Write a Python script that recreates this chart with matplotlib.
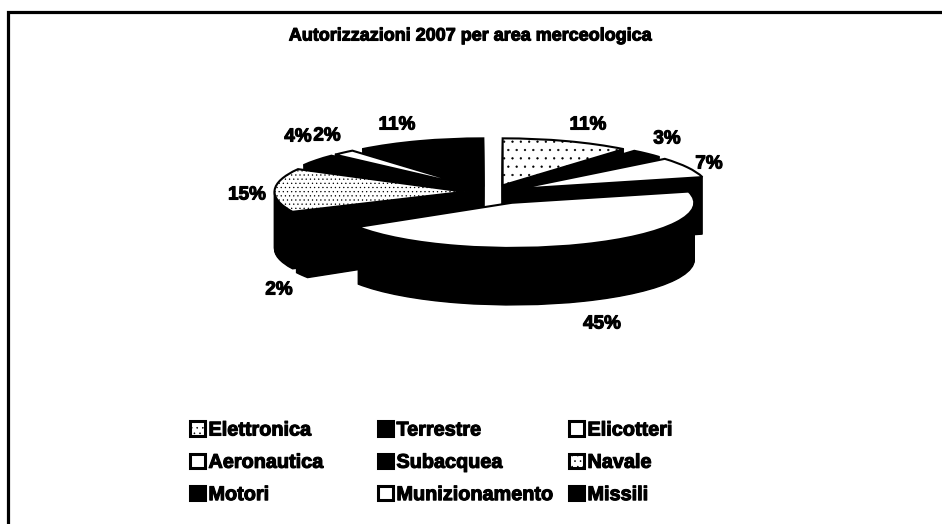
import matplotlib
matplotlib.use("Agg")
import matplotlib.pyplot as plt
import matplotlib.patheffects as pe
from matplotlib.patches import Patch
import numpy as np

W, H = 942, 524
categories = ["Elettronica", "Terrestre", "Elicotteri", "Aeronautica", "Subacquea",
              "Navale", "Motori", "Munizionamento", "Missili"]
values = [11, 3, 7, 45, 2, 15, 4, 2, 11]
explode = [0.15, 0.15, 0.15, 0.25, 0.15, 0.15, 0.15, 0.15, 0.15]
top_colors = ["white", "black", "white", "white", "black", "white", "black", "white", "black"]
hatches = ["..", None, None, None, None, "....", None, None, None]
title = "Autorizzazioni 2007 per area merceologica"

plt.rcParams["font.family"] = ["Liberation Sans", "DejaVu Sans"]
plt.rcParams["hatch.linewidth"] = 0.4
fig = plt.figure(figsize=(W / 100, H / 100), dpi=100, facecolor="white")

bold = [pe.withStroke(linewidth=0.8, foreground="black")]

# outer frame, in pixels: only the left and top edges are visible
px = fig.add_axes([0, 0, 1, 1])
px.set_xlim(0, W)
px.set_ylim(H, 0)
px.axis("off")
px.plot([7.5, 7.5, W], [H, 11.5, 11.5], color="black", lw=2.3, solid_capstyle="butt",
        solid_joinstyle="miter")

px.text(470.5, 36, title, ha="center", va="center", fontsize=12.95, fontweight="bold",
        path_effects=bold)

# pie axes: unit circle maps to an ellipse 190 px wide, 47 px tall (radius)
CX, CY, RX, RY, DEPTH = 493, 192, 190, 47, 57
ax_w, ax_h = 300, 120
ax = fig.add_axes([(CX - ax_w) / W, 1 - (CY + ax_h) / H, 2 * ax_w / W, 2 * ax_h / H])
ax.patch.set_alpha(0)


def layer(offset, colors, hatch_list=None, lw=1.0):
    wedges, _ = ax.pie(values, explode=explode, startangle=90, counterclock=False,
                       colors=colors, center=(0, offset), radius=1,
                       wedgeprops=dict(edgecolor="black", linewidth=lw))
    # the large front slice is drawn slightly smaller in the reference
    wedges[3].set_radius(0.96)
    if hatch_list:
        for w, h in zip(wedges, hatch_list):
            if h:
                w.set_hatch(h)
    return wedges


for d in np.arange(DEPTH, 0, -1):
    layer(-d / RY, ["black"] * len(values))
layer(0, top_colors, hatches, lw=1.5)

ax.set_aspect("auto")
ax.set_xlim(-ax_w / RX, ax_w / RX)
ax.set_ylim(-ax_h / RY, ax_h / RY)
ax.axis("off")

# percentage labels, placed in pixels
label_xy = [(588, 125), (667, 139), (709, 164), (602, 324), (279, 290),
            (247, 195), (298, 137), (327, 136), (397, 125)]
for v, (x, y) in zip(values, label_xy):
    px.text(x, y, f"{v}%", ha="center", va="center", fontsize=13.6, fontweight="bold",
            path_effects=bold)

# legend: three columns, filled row by row
legend_face = ["white", "black", "white", "white", "black", "white", "black", "white", "black"]
legend_hatch = ["...", None, None, None, None, "...", None, None, None]
col_x = [190, 378, 569]
for c in range(3):
    idx = list(range(c, 9, 3))
    handles = [Patch(facecolor=legend_face[i], edgecolor="black", linewidth=2.2,
                     hatch=legend_hatch[i], label=categories[i]) for i in idx]
    leg = fig.legend(handles=handles, loc="upper left", frameon=False, ncol=1,
                     bbox_to_anchor=(col_x[c] / W, 1 - 420.5 / H), borderpad=0, borderaxespad=0,
                     prop=dict(family="Liberation Sans", weight="bold", size=14.3),
                     handlelength=0.75, handleheight=0.75, handletextpad=0.18, labelspacing=0.67)
    for t in leg.get_texts():
        t.set_path_effects(bold)

fig.savefig("out.png", dpi=100, facecolor="white")
